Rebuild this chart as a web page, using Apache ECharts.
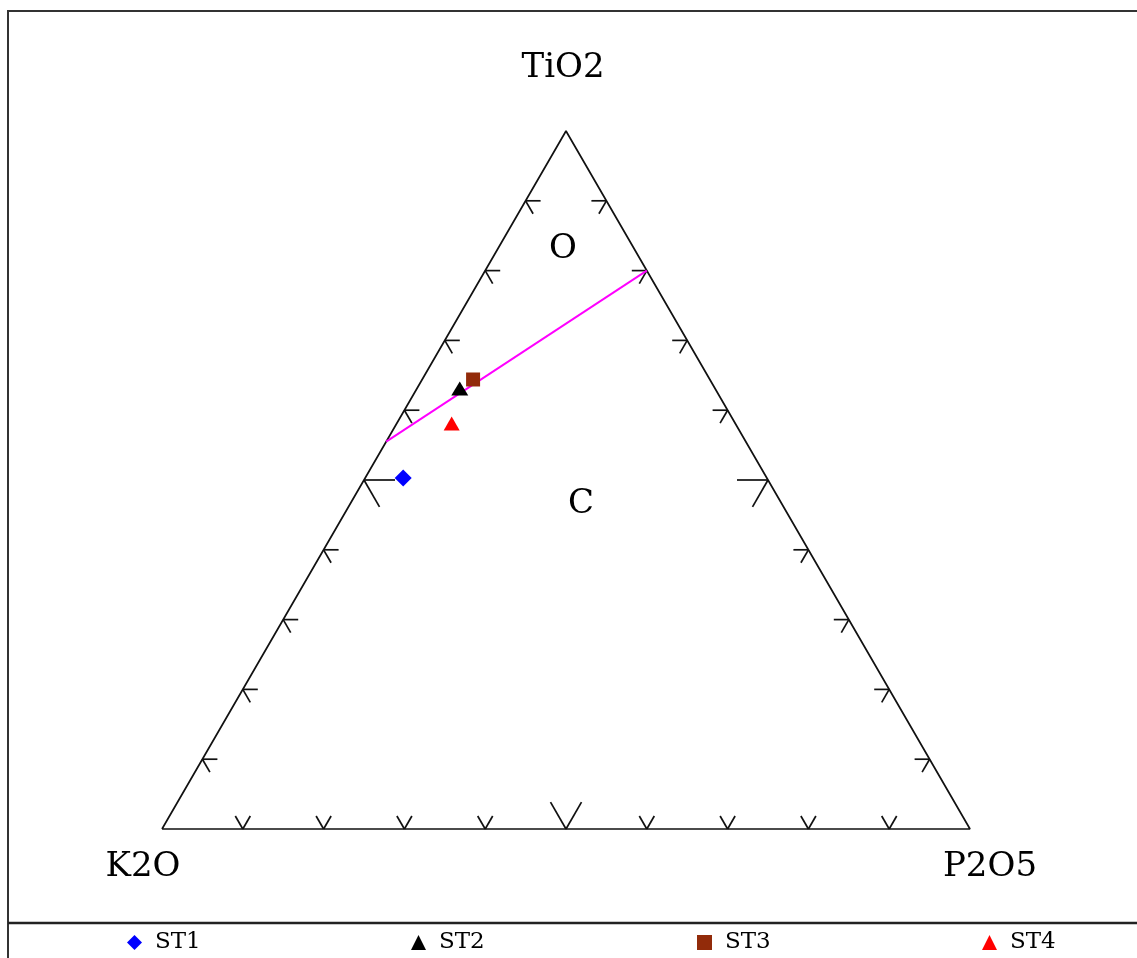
<!DOCTYPE html>
<html>
<head>
<meta charset="utf-8">
<title>TiO2 - K2O - P2O5</title>
<script src="https://cdn.jsdelivr.net/npm/echarts@6/dist/echarts.min.js"></script>
<style>
  html, body { margin: 0; padding: 0; background: #fff; }
  #chart { width: 1137px; height: 958px; }
</style>
</head>
<body>
<div id="chart"></div>
<script>
// Apex names of the ternary diagram
const APEX_TOP = 'TiO2';
const APEX_LEFT = 'K2O';
const APEX_RIGHT = 'P2O5';

// Field names
const FIELD_NAMES = ['O', 'C'];

// Sample compositions, in percent: [TiO2, K2O, P2O5]
const SAMPLE_NAMES = ['ST1', 'ST2', 'ST3', 'ST4'];
const ST1 = [50.3, 45.0, 4.7];
const ST2 = [63.1, 31.6, 5.3];
const ST3 = [64.4, 29.3, 6.3];
const ST4 = [58.1, 35.1, 6.8];

// Boundary between the O and C fields, in percent: [TiO2, K2O, P2O5]
const BOUNDARY = [[55.5, 44.5, 0], [80, 0, 20]];

// Tick positions along each side, in percent
const TICKS = [10, 20, 30, 40, 50, 60, 70, 80, 90];
const MAJOR_TICK = 50;

const H = Math.sqrt(3) / 2;

// Composition -> cartesian position inside a unit equilateral triangle
function toXY(c) {
  const s = c[0] + c[1] + c[2];
  const t = c[0] / s, p = c[2] / s;
  return [p + t / 2, t * H];
}

const triangle = [[0, 100, 0], [0, 0, 100], [100, 0, 0], [0, 100, 0]].map(toXY);

// Tick marks: [x, y, side, major]; side 0 = bottom, 1 = left, 2 = right
const tickData = [];
TICKS.forEach(function (v) {
  const major = v === MAJOR_TICK ? 1 : 0;
  tickData.push(toXY([0, 100 - v, v]).concat([0, major]));
  tickData.push(toXY([v, 100 - v, 0]).concat([1, major]));
  tickData.push(toXY([v, 0, 100 - v]).concat([2, major]));
});

const c30 = Math.cos(Math.PI / 6), s30 = 0.5;
const SIDE_DIRS = [
  [[-s30, -c30], [s30, -c30]],   // bottom: V opening upward
  [[1, 0], [s30, c30]],          // left side
  [[-1, 0], [-s30, c30]]         // right side
];

const LINE_W = 1.7;

function renderTick(params, api) {
  const p = api.coord([api.value(0), api.value(1)]);
  const dirs = SIDE_DIRS[api.value(2)];
  const len = api.value(3) ? 31 : 15;
  return {
    type: 'group',
    children: dirs.map(function (d) {
      return {
        type: 'line',
        shape: { x1: p[0], y1: p[1], x2: p[0] + d[0] * len, y2: p[1] + d[1] * len },
        style: { stroke: '#111', lineWidth: LINE_W }
      };
    })
  };
}

const SERIF = 'DejaVu Serif';
const samples = [ST1, ST2, ST3, ST4];
const sampleStyle = [
  { symbol: 'diamond', size: [17, 17], color: '#0000ff' },
  { symbol: 'triangle', size: [17, 14], color: '#000000' },
  { symbol: 'rect', size: [14, 14], color: '#922b0a' },
  { symbol: 'triangle', size: [16, 14], color: '#ff0000' }
];

const sampleSeries = SAMPLE_NAMES.map(function (name, i) {
  return {
    name: name,
    type: 'scatter',
    symbol: sampleStyle[i].symbol,
    symbolSize: sampleStyle[i].size,
    itemStyle: { color: sampleStyle[i].color, opacity: 1 },
    data: [toXY(samples[i])],
    z: 5
  };
});

const legendLeft = [127, 411, 697, 982];
const legends = SAMPLE_NAMES.map(function (name, i) {
  return {
    data: [name],
    left: legendLeft[i],
    top: 931,
    padding: 0,
    itemWidth: 15,
    itemHeight: 15,
    itemGap: 0,
    selectedMode: false,
    textStyle: { fontFamily: SERIF, fontSize: 23, color: '#000', padding: [0, 0, 0, 8] }
  };
});

function label(text, x, y) {
  return {
    type: 'text',
    x: x, y: y,
    style: {
      text: text,
      fontFamily: SERIF,
      fontSize: 34,
      fill: '#000',
      textAlign: 'center',
      textVerticalAlign: 'middle'
    }
  };
}

const chart = echarts.init(document.getElementById('chart'), null, { renderer: 'canvas' });

chart.setOption({
  animation: false,
  backgroundColor: '#fff',
  grid: { left: 162, top: 131, width: 808, height: 698 },
  xAxis: { type: 'value', min: 0, max: 1, show: false },
  yAxis: { type: 'value', min: 0, max: H, show: false },
  legend: legends,
  graphic: [
    // frame and legend separator
    { type: 'polyline', shape: { points: [[8, 958], [8, 11], [1137, 11]] },
      style: { stroke: '#333', lineWidth: 2, fill: null } },
    { type: 'line', shape: { x1: 8, y1: 923, x2: 1137, y2: 923 },
      style: { stroke: '#222', lineWidth: 2.5 } },
    label(APEX_TOP, 563, 68),
    label(APEX_LEFT, 143, 867),
    label(APEX_RIGHT, 990, 867),
    label(FIELD_NAMES[0], 563, 249),
    label(FIELD_NAMES[1], 581, 504)
  ],
  series: [
    {
      type: 'line',
      data: triangle,
      symbol: 'none',
      silent: true,
      clip: false,
      lineStyle: { color: '#111', width: LINE_W },
      z: 2
    },
    {
      type: 'custom',
      data: tickData,
      renderItem: renderTick,
      silent: true,
      clip: false,
      z: 2
    },
    {
      type: 'line',
      data: BOUNDARY.map(toXY),
      symbol: 'none',
      silent: true,
      lineStyle: { color: '#ff00ff', width: 1.9 },
      z: 3
    }
  ].concat(sampleSeries)
});
</script>
</body>
</html>
